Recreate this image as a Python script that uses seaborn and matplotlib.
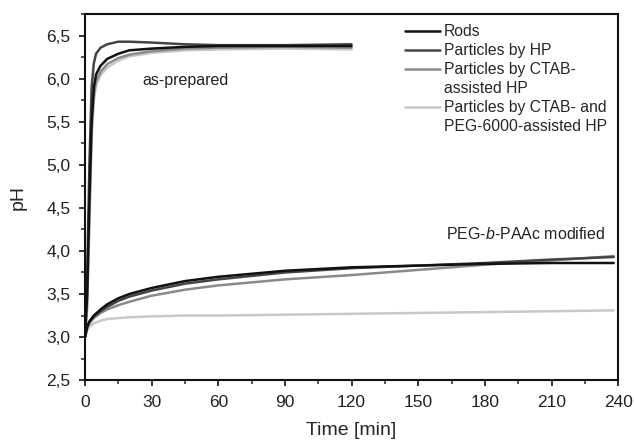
import numpy as np
import pandas as pd
import seaborn as sns
import matplotlib.pyplot as plt
from matplotlib.lines import Line2D
from matplotlib.ticker import MultipleLocator, FuncFormatter

# as-prepared samples (first 120 min)
t_prep = [0, 1, 2, 3, 4, 5, 7, 10, 15, 20, 30, 45, 60, 90, 120]
rods_prep = [3.0, 3.5, 4.6, 5.5, 5.9, 6.05, 6.15, 6.23, 6.29, 6.33, 6.35, 6.37, 6.38, 6.38, 6.38]
hp_prep = [3.0, 3.7, 5.0, 5.9, 6.18, 6.29, 6.36, 6.40, 6.43, 6.43, 6.42, 6.40, 6.39, 6.39, 6.40]
ctab_prep = [3.0, 3.4, 4.4, 5.4, 5.8, 5.97, 6.08, 6.17, 6.24, 6.28, 6.32, 6.35, 6.36, 6.37, 6.36]
peg_prep = [3.0, 3.3, 4.3, 5.3, 5.75, 5.92, 6.04, 6.13, 6.21, 6.26, 6.30, 6.33, 6.34, 6.35, 6.34]

# PEG-b-PAAc modified samples
t_mod = [0, 1, 2, 4, 7, 10, 15, 20, 30, 45, 60, 90, 120, 150, 180, 210, 238]
rods_mod = [3.0, 3.12, 3.18, 3.25, 3.32, 3.38, 3.45, 3.50, 3.57, 3.65, 3.70, 3.77, 3.81, 3.83, 3.85, 3.86, 3.86]
hp_mod = [3.0, 3.12, 3.18, 3.24, 3.30, 3.35, 3.42, 3.47, 3.54, 3.62, 3.67, 3.75, 3.80, 3.83, 3.86, 3.90, 3.93]
ctab_mod = [3.0, 3.10, 3.16, 3.22, 3.28, 3.32, 3.37, 3.41, 3.48, 3.55, 3.60, 3.67, 3.72, 3.78, 3.84, 3.89, 3.94]
peg_mod = [3.0, 3.08, 3.12, 3.16, 3.19, 3.21, 3.22, 3.23, 3.24, 3.25, 3.25, 3.26, 3.27, 3.28, 3.29, 3.30, 3.31]

names = ["Rods", "Particles by HP", "Particles by CTAB-\nassisted HP",
         "Particles by CTAB- and\nPEG-6000-assisted HP"]
colors = ["#111111", "#444444", "#8a8a8a", "#c8c8c8"]

sns.set_style("ticks")
plt.rcParams["font.family"] = ["Liberation Sans", "DejaVu Sans"]
plt.rcParams["mathtext.fontset"] = "custom"
plt.rcParams["mathtext.it"] = "Liberation Sans:italic"
plt.rcParams["mathtext.rm"] = "Liberation Sans"

fig = plt.figure(figsize=(6.34, 4.42), dpi=100)
ax = fig.add_axes([0.134, 0.140, 0.841, 0.828])

prep = [rods_prep, hp_prep, ctab_prep, peg_prep]
mod = [rods_mod, hp_mod, ctab_mod, peg_mod]
# draw lightest first so darker curves sit on top
for i in [3, 2, 1, 0]:
    sns.lineplot(x=t_prep, y=prep[i], color=colors[i], lw=1.8, ax=ax, sort=False)
    sns.lineplot(x=t_mod, y=mod[i], color=colors[i], lw=1.8, ax=ax, sort=False)

ax.set_xlim(0, 240)
ax.set_ylim(2.5, 6.75)
ax.xaxis.set_major_locator(MultipleLocator(30))
ax.xaxis.set_minor_locator(MultipleLocator(15))
ax.yaxis.set_major_locator(MultipleLocator(0.5))
ax.yaxis.set_minor_locator(MultipleLocator(0.25))
ax.yaxis.set_major_formatter(FuncFormatter(lambda v, p: f"{v:.1f}".replace(".", ",")))
ax.tick_params(which="major", direction="out", length=4.5, width=1.3, labelsize=12.5,
               colors="#222222", pad=6)
ax.tick_params(which="minor", direction="out", length=3, width=1.1)
for s in ax.spines.values():
    s.set_linewidth(1.5)
    s.set_color("#111111")

ax.set_xlabel("Time [min]", fontsize=14, labelpad=9)
ax.set_ylabel("pH", fontsize=14, labelpad=14)

ax.text(26, 5.98, "as-prepared", fontsize=11.5, color="#222222", va="center")
ax.text(234, 4.2, r"PEG-$\it{b}$-PAAc modified", fontsize=11.5, color="#222222",
        va="center", ha="right")

handles = []
labels = []
for name, c in zip(names, colors):
    parts = name.split("\n")
    handles.append(Line2D([], [], color=c, lw=1.8))
    labels.append(parts[0])
    for extra in parts[1:]:
        handles.append(Line2D([], [], color="none"))
        labels.append(extra)
ax.legend(handles, labels, loc="upper left", bbox_to_anchor=(0.589, 0.99), frameon=False,
          fontsize=11.3, handlelength=2.2, handletextpad=0.25, labelspacing=0.26,
          borderaxespad=0)

fig.savefig("out.png", dpi=100)
